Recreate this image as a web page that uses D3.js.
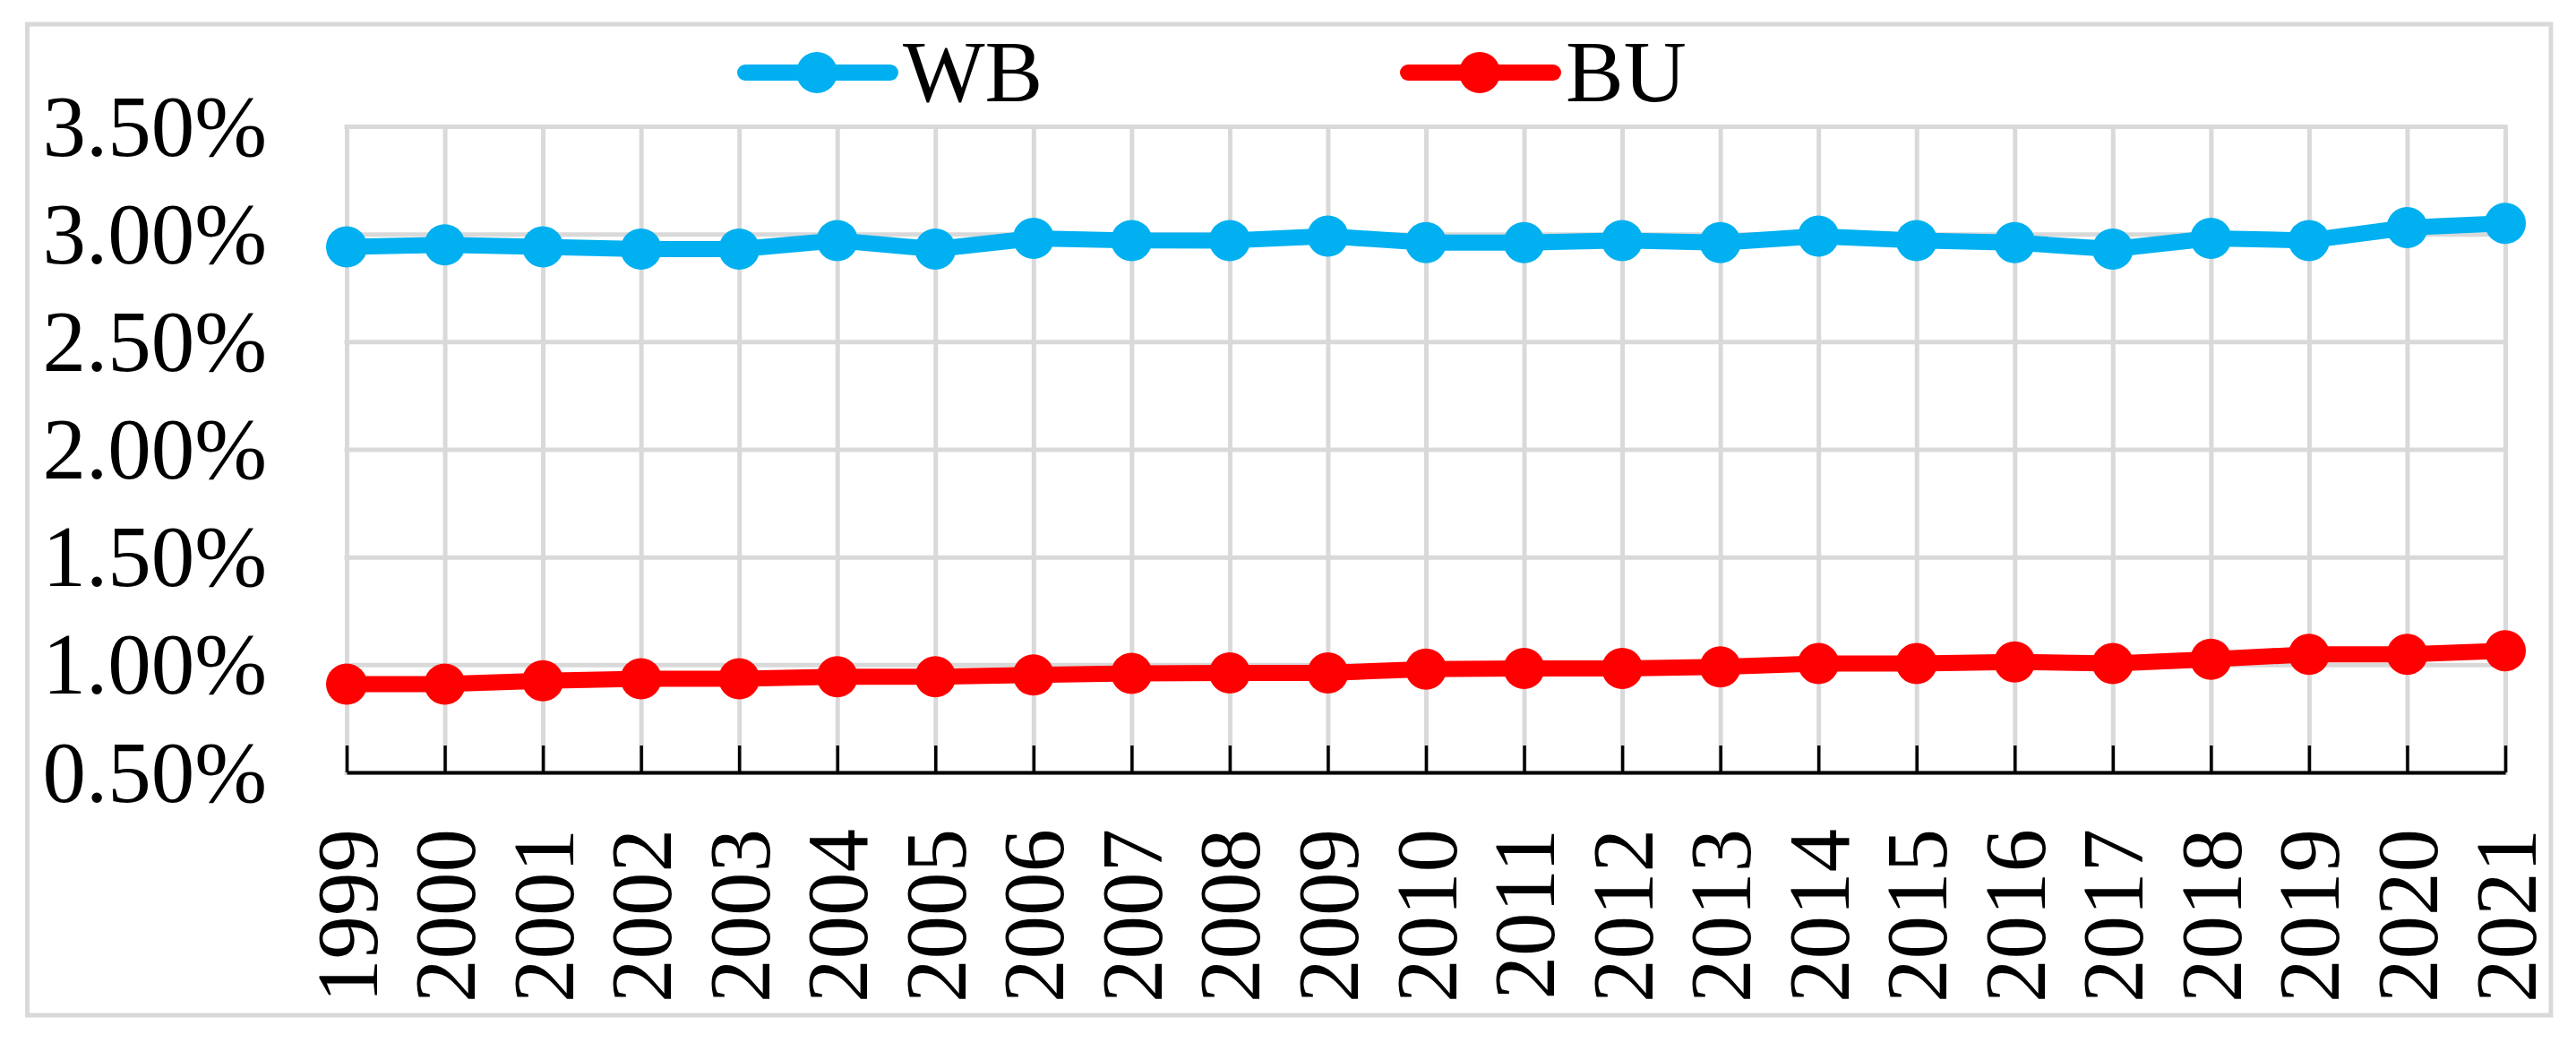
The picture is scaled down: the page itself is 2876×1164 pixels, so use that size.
<!DOCTYPE html>
<html>
<head>
<meta charset="utf-8">
<script src="https://cdn.jsdelivr.net/npm/d3@7"></script>
<style>
  body { margin: 0; background: #fff; }
  text { font-family: "Times New Roman", "Liberation Serif", serif; fill: #000; }
</style>
</head>
<body>
<svg width="2876" height="1164"></svg>
<script>
const years = ['1999', '2000', '2001', '2002', '2003', '2004', '2005', '2006', '2007', '2008', '2009',
    '2010', '2011', '2012', '2013', '2014', '2015', '2016', '2017', '2018', '2019', '2020', '2021'];
const wbValues = [2.94, 2.95, 2.94, 2.93, 2.93, 2.97, 2.93, 2.98, 2.97, 2.97, 2.99,
    2.96, 2.96, 2.97, 2.96, 2.99, 2.97, 2.96, 2.93, 2.98, 2.97, 3.03, 3.05];
const buValues = [0.91, 0.91, 0.925, 0.935, 0.935, 0.944, 0.944, 0.952, 0.96, 0.962, 0.962,
    0.98, 0.983, 0.983, 0.99, 1.006, 1.006, 1.013, 1.006, 1.025, 1.048, 1.048, 1.065];
const yTicks = [0.5, 1.0, 1.5, 2.0, 2.5, 3.0, 3.5];
const seriesNames = ['WB', 'BU'];

const svg = d3.select('svg');
const width = +svg.attr('width');
const height = +svg.attr('height');

var margin = {top: 141, right: 79, bottom: 302, left: 387};
const plotRight = width - margin.right,
      plotBottom = height - margin.bottom;

const colors = {WB: '#00b0f0', BU: '#ff0000'};
const fontSize = 97;

// outer chart border
svg.append('rect')
    .attr('x', 30.5).attr('y', 27)
    .attr('width', 2848 - 30.5).attr('height', 1133 - 27)
    .attr('fill', 'none')
    .attr('stroke', '#d9d9d9')
    .attr('stroke-width', 5);

var xScale = d3.scalePoint()
    .domain(years)
    .range([margin.left, plotRight]);

var yScale = d3.scaleLinear()
    .domain([0.5, 3.5])
    .range([plotBottom, margin.top]);

//-----------------------------------------GRID-----------------------------------------//

svg.append('g')
    .attr('transform', `translate(0,${plotBottom})`)
    .call(d3.axisBottom(xScale).tickSize(-(plotBottom - margin.top)).tickFormat(''))
    .call(g => g.select('.domain').remove())
    .call(g => g.selectAll('line').attr('stroke', '#d9d9d9').attr('stroke-width', 5));

svg.append('g')
    .attr('transform', `translate(${margin.left},0)`)
    .call(d3.axisLeft(yScale).tickValues(yTicks).tickSize(-(plotRight - margin.left)).tickFormat(''))
    .call(g => g.select('.domain').remove())
    .call(g => g.selectAll('line').attr('stroke', '#d9d9d9').attr('stroke-width', 5)
        .attr('x1', -2.5).attr('x2', plotRight - margin.left + 2.5));

//-----------------------------------------Y - AXIS-----------------------------------------//

svg.append('g')
    .attr('transform', `translate(${margin.left},0)`)
    .call(d3.axisLeft(yScale).tickValues(yTicks).tickSize(0).tickPadding(89)
        .tickFormat(d => d.toFixed(2) + '%'))
    .call(g => g.select('.domain').remove())
    .call(g => g.selectAll('text')
        .attr('font-family', null)
        .attr('font-size', null)
        .style('font-size', fontSize + 'px')
        .attr('dy', '0.33em'));

//-----------------------------------------X - AXIS-----------------------------------------//

svg.append('g')
    .attr('transform', `translate(0,${plotBottom})`)
    .call(d3.axisBottom(xScale).tickSize(-30).tickSizeOuter(0))
    .call(g => g.select('.domain').attr('stroke', '#000').attr('stroke-width', 4))
    .call(g => g.selectAll('line').attr('stroke', '#000').attr('stroke-width', 3.5))
    .call(g => g.selectAll('text')
        .attr('font-family', null)
        .attr('font-size', null)
        .style('font-size', fontSize + 'px')
        .attr('x', 0).attr('y', 0).attr('dy', null)
        .attr('text-anchor', 'end')
        .attr('transform', 'translate(33,63) rotate(-90)'));

//-----------------------------------------LINES-----------------------------------------//

const series = [
    {name: 'WB', values: wbValues},
    {name: 'BU', values: buValues}
];

var line = d3.line()
    .x((d, i) => xScale(years[i]))
    .y(d => yScale(d));

series.forEach(function (s) {
    svg.append('path')
        .datum(s.values)
        .attr('d', line)
        .attr('fill', 'none')
        .attr('stroke', colors[s.name])
        .attr('stroke-width', 18)
        .attr('stroke-linejoin', 'round');

    svg.append('g')
        .selectAll('circle')
        .data(s.values)
        .enter()
        .append('circle')
        .attr('cx', (d, i) => xScale(years[i]))
        .attr('cy', d => yScale(d))
        .attr('r', 23)
        .attr('fill', colors[s.name]);
});

//-----------------------------------------LEGEND-----------------------------------------//

const legendX = {WB: 823, BU: 1563};
const legendY = 81;

seriesNames.forEach(function (name) {
    var g = svg.append('g').attr('transform', `translate(${legendX[name]},${legendY})`);
    g.append('line')
        .attr('x1', 9).attr('x2', 171)
        .attr('y1', 0).attr('y2', 0)
        .attr('stroke', colors[name])
        .attr('stroke-width', 18)
        .attr('stroke-linecap', 'round');
    g.append('circle')
        .attr('cx', 89).attr('cy', 0)
        .attr('r', 23)
        .attr('fill', colors[name]);
    g.append('text')
        .attr('x', 185)
        .attr('y', 32)
        .style('font-size', fontSize + 'px')
        .text(name);
});
</script>
</body>
</html>
